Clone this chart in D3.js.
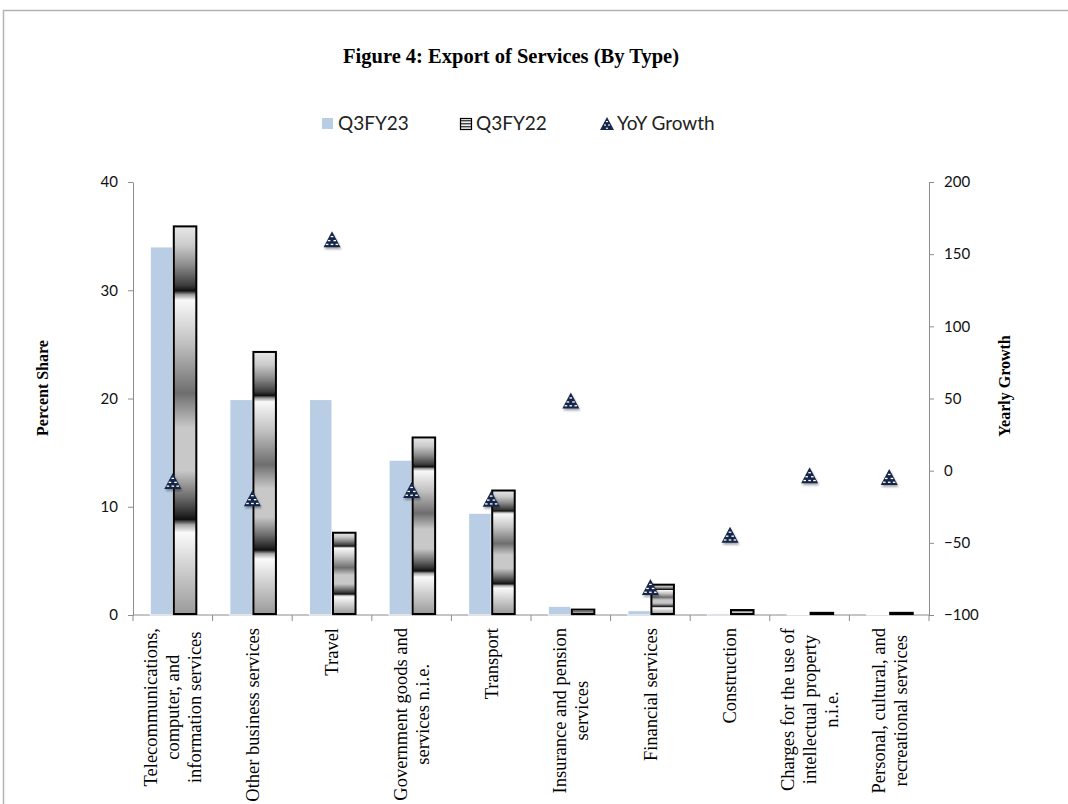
<!DOCTYPE html>
<html><head><meta charset="utf-8">
<script src="https://cdn.jsdelivr.net/npm/d3@7/dist/d3.min.js"></script>
<style>body{margin:0;background:#fff;} svg{display:block;}</style>
</head><body>
<svg id="chart" width="1068" height="804"></svg>
<script>
// ---- data ----
const categories = [
  "Telecommunications,\ncomputer, and\ninformation services",
  "Other business services",
  "Travel",
  "Government goods and\nservices n.i.e.",
  "Transport",
  "Insurance and pension\nservices",
  "Financial services",
  "Construction",
  "Charges for the use of\nintellectual property\nn.i.e.",
  "Personal, cultural, and\nrecreational services"
];
const q3fy23 = [34.0, 19.9, 19.9, 14.3, 9.4, 0.8, 0.4, 0.15, 0.05, 0.05];
const q3fy22 = [35.9, 24.3, 7.6, 16.4, 11.5, 0.5, 2.8, 0.46, 0.2, 0.2];
const yoyGrowth = [-7.1, -19.1, 160.4, -13.4, -19.4, 48.6, -80.6, -44.4, -3.2, -4.4];
const leftTicks = [0, 10, 20, 30, 40];
const rightTicks = [-100, -50, 0, 50, 100, 150, 200];
const seriesNames = ["Q3FY23", "Q3FY22", "YoY Growth"];
const titleText = "Figure 4: Export of Services (By Type)";
const leftTitle = "Percent Share";
const rightTitle = "Yearly Growth";

// ---- layout ----
const L = 133, R = 929, T = 182, B = 615;
const svg = d3.select("#chart");
const serif = "'Liberation Serif','Times New Roman',serif";
const sans = "Lato,'Open Sans',sans-serif";
const axisGray = "#8c8c8c";

// border
svg.append("rect").attr("x", 3.5).attr("y", 10.5).attr("width", 1200).attr("height", 1000)
  .attr("fill", "none").attr("stroke", "#b3b3b3").attr("stroke-width", 1.5);

const defs = svg.append("defs");
const stops = [
  [0, "#e8e8e8"], [0.05, "#cacaca"], [0.10, "#8c8c8c"], [0.152, "#3c3c3c"], [0.166, "#111"],
  [0.176, "#9a9a9a"], [0.19, "#f8f8f8"], [0.30, "#c2c2c2"], [0.43, "#6e6e6e"], [0.52, "#c8c8c8"],
  [0.63, "#c8c8c8"], [0.70, "#6a6a6a"], [0.742, "#2a2a2a"], [0.756, "#111"], [0.77, "#a8a8a8"],
  [0.79, "#fafafa"], [0.88, "#d0d0d0"], [1, "#9a9a9a"]
];
const grad = defs.append("linearGradient").attr("id", "g22").attr("x1", 0).attr("y1", 0).attr("x2", 0).attr("y2", 1);
stops.forEach(s => grad.append("stop").attr("offset", s[0]).attr("stop-color", s[1]));
const pat = defs.append("pattern").attr("id", "stripes").attr("patternUnits", "userSpaceOnUse")
  .attr("width", 4).attr("height", 3);
pat.append("rect").attr("width", 4).attr("height", 3).attr("fill", "#eee");
pat.append("rect").attr("width", 4).attr("height", 1.4).attr("fill", "#444");
const flt = defs.append("filter").attr("id", "shadow").attr("x", "-50%").attr("y", "-50%").attr("width", "200%").attr("height", "200%");
flt.append("feDropShadow").attr("dx", 1).attr("dy", 2).attr("stdDeviation", 1.2).attr("flood-color", "#000").attr("flood-opacity", 0.35);

// scales
const x = d3.scaleBand().domain(categories).range([L, R]).padding(0);
const yL = d3.scaleLinear().domain([0, 40]).range([B, T]);
const yR = d3.scaleLinear().domain([-100, 200]).range([B, T]);
const bw = x.bandwidth() * 0.283;

// title
svg.append("text").attr("x", 511).attr("y", 63).attr("text-anchor", "middle")
  .attr("font-family", serif).attr("font-weight", "bold").attr("font-size", 20.5).text(titleText);

// legend
function triPath(w, h) { return `M0,${-h/2}L${w/2},${h/2}L${-w/2},${h/2}Z`; }
const lg = svg.append("g").attr("font-family", sans).attr("font-size", 19).attr("fill", "#222");
lg.append("rect").attr("x", 322).attr("y", 118).attr("width", 11).attr("height", 11).attr("fill", "#b9cde5");
lg.append("text").attr("x", 338).attr("y", 130).text(seriesNames[0]);
lg.append("rect").attr("x", 460.5).attr("y", 118.5).attr("width", 11).attr("height", 11).attr("fill", "url(#stripes)").attr("stroke", "#000").attr("stroke-width", 1.2);
lg.append("text").attr("x", 476).attr("y", 130).text(seriesNames[1]);
const lt = lg.append("g").attr("transform", "translate(607,123.5)");
lt.append("path").attr("d", triPath(14, 13)).attr("fill", "#17294a");
[[-1,-2.5],[-3,1],[1,1],[-1,4.2]].forEach(d => lt.append("rect").attr("x", d[0]).attr("y", d[1]).attr("width", 2).attr("height", 1.1).attr("fill", "#fff"));
lg.append("text").attr("x", 617).attr("y", 130).text(seriesNames[2]);

// axes
const axL = svg.append("g").attr("transform", `translate(${L},0)`)
  .call(d3.axisLeft(yL).tickValues(leftTicks).tickSize(5).tickSizeOuter(0).tickPadding(10));
const axR = svg.append("g").attr("transform", `translate(${R},0)`)
  .call(d3.axisRight(yR).tickValues(rightTicks).tickSize(5).tickSizeOuter(0).tickPadding(10));
[axL, axR].forEach(a => {
  a.select(".domain").attr("stroke", axisGray);
  a.selectAll(".tick line").attr("stroke", axisGray);
  a.selectAll(".tick text").attr("font-family", sans).attr("font-size", 15).attr("fill", "#111");
});
// x axis
const xa = svg.append("g");
xa.append("line").attr("x1", L).attr("x2", R).attr("y1", B).attr("y2", B).attr("stroke", axisGray);
const bounds = categories.map(c => x(c)).concat([x(categories[categories.length - 1]) + x.bandwidth()]);
xa.selectAll("line.tk").data(bounds).join("line").attr("class", "tk")
  .attr("x1", d => d).attr("x2", d => d).attr("y1", B).attr("y2", B + 6).attr("stroke", axisGray);

// bars Q3FY23
svg.append("g").selectAll("rect").data(q3fy23).join("rect")
  .attr("x", (d, i) => x(categories[i]) + x.bandwidth() / 2 - bw)
  .attr("y", d => yL(d)).attr("width", bw).attr("height", d => B - yL(d))
  .attr("fill", "#b9cde5").attr("stroke", "#fff").attr("stroke-width", 1);
// bars Q3FY22
svg.append("g").selectAll("rect").data(q3fy22).join("rect")
  .attr("x", (d, i) => x(categories[i]) + x.bandwidth() / 2 + 1)
  .attr("y", d => yL(d)).attr("width", bw).attr("height", d => Math.max(0.5, B - yL(d) - 1))
  .attr("fill", "url(#g22)").attr("stroke", "#000").attr("stroke-width", 2);

// YoY markers
const dashes = [[-1.3,-3.2],[-4.2,0.8],[1.4,0.8],[-6.2,4.6],[-1.3,4.6],[3.6,4.6]];
const mk = svg.append("g").selectAll("g").data(yoyGrowth).join("g")
  .attr("transform", (d, i) => `translate(${x(categories[i]) + x.bandwidth() / 2},${yR(d)})`);
mk.append("path").attr("d", triPath(17, 16)).attr("fill", "#14264a").attr("filter", "url(#shadow)");
mk.each(function () {
  const g = d3.select(this);
  dashes.forEach(d => g.append("rect").attr("x", d[0]).attr("y", d[1]).attr("width", 2.6).attr("height", 1.3).attr("fill", "#fff"));
});

// category labels
const lblTop = 628, lh = 22;
categories.forEach((c, i) => {
  const lines = c.split("\n");
  const g = svg.append("g").attr("transform", `translate(${x(c) + x.bandwidth() / 2},${lblTop}) rotate(-90)`)
    .attr("font-family", serif).attr("font-size", 18.5).attr("fill", "#000");
  const ts = lines.map((ln, j) => g.append("text").attr("y", (j - (lines.length - 1) / 2) * lh).attr("dy", "0.35em")
    .attr("text-anchor", "middle").text(ln));
  const maxLen = d3.max(ts, t => t.node().getComputedTextLength());
  ts.forEach(t => t.attr("x", -maxLen / 2));
});

// axis titles
svg.append("text").attr("transform", "translate(48,388) rotate(-90)").attr("text-anchor", "middle")
  .attr("font-family", serif).attr("font-weight", "bold").attr("font-size", 16).text(leftTitle);
svg.append("text").attr("transform", "translate(1010,386) rotate(-90)").attr("text-anchor", "middle")
  .attr("font-family", serif).attr("font-weight", "bold").attr("font-size", 16).text(rightTitle);
</script>
</body></html>
